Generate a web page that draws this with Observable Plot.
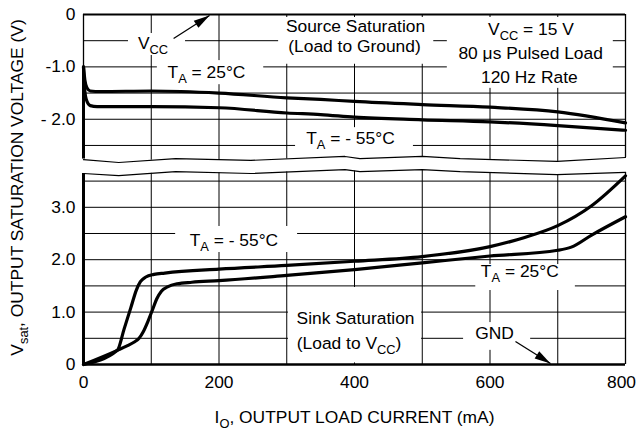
<!DOCTYPE html>
<html><head><meta charset="utf-8">
<script src="https://cdn.jsdelivr.net/npm/d3@7"></script>
<script src="https://cdn.jsdelivr.net/npm/@observablehq/plot@0.6"></script>
<style>
html,body{margin:0;padding:0;background:#fff;}
#chart{position:relative;width:637px;height:434px;}
#chart svg{position:absolute;left:0;top:0;}
</style></head><body><div id="chart"></div>
<script>
// ---------- data ----------
// Source saturation (load to ground), upper panel
const srcWarmX = [0, 2, 5, 10, 25, 100, 200, 300, 350, 400, 500, 600, 700, 800];
const srcWarmY = [-1.0, -1.25, -1.4, -1.46, -1.47, -1.46, -1.50, -1.59, -1.62, -1.66, -1.72, -1.77, -1.86, -2.07];
const srcColdX = [0, 1, 4, 10, 20, 100, 200, 300, 350, 400, 500, 600, 700, 800];
const srcColdY = [-1.0, -1.3, -1.62, -1.74, -1.76, -1.76, -1.78, -1.88, -1.91, -1.96, -2.01, -2.05, -2.12, -2.21];
// Sink saturation (load to Vcc), lower panel
const sinkColdX = [0, 50, 60, 70, 78, 84, 92, 104, 120, 200, 300, 400, 500, 600, 650, 700, 750, 800];
const sinkColdY = [0, 0.27, 0.68, 1.09, 1.42, 1.58, 1.67, 1.72, 1.745, 1.82, 1.89, 1.97, 2.06, 2.25, 2.42, 2.65, 3.03, 3.6];
const sinkWarmX = [0, 50, 65, 75, 82, 88, 95, 102, 108, 115, 124, 138, 160, 200, 300, 400, 500, 600, 700, 720, 750, 800];
const sinkWarmY = [0, 0.27, 0.36, 0.43, 0.5, 0.62, 0.82, 1.05, 1.25, 1.4, 1.48, 1.54, 1.57, 1.6, 1.70, 1.81, 1.94, 2.07, 2.18, 2.24, 2.47, 2.82];
// axis break (wavy lines), in lower-panel units
const waveX = [0, 52, 136, 247, 386, 408, 500, 556, 699, 800];
const waveTop = [3.91, 3.855, 3.93, 3.895, 3.97, 3.93, 3.97, 3.93, 3.875, 3.95];
const waveBottom = [3.645, 3.605, 3.68, 3.645, 3.72, 3.68, 3.72, 3.68, 3.625, 3.665];
// ticks and grid
const gridX = [100, 200, 300, 400, 500, 600, 700];
const topGridY = [-0.5, -1, -1.5, -2, -2.5];
const botGridY = [0.5, 1, 1.5, 2, 2.5, 3, 3.5];
const xTicks = [0, 200, 400, 600, 800];
const xTickLabels = ["0", "200", "400", "600", "800"];
const topTicks = [0, -1, -2];
const topTickLabels = ["0", "-1.0", "- 2.0"];
const botTicks = [0, 1, 2, 3];
const botTickLabels = ["0", "1.0", "2.0", "3.0"];

// ---------- annotations ----------
const topLabels = [
  {x: 102.6, y: -0.544, t: "V_{CC}"},
  {x: 181.5, y: -1.10, t: "T_{A} = 25°C"},
  {x: 401.5, y: -0.219, t: "Source Saturation"},
  {x: 400, y: -0.611, t: "(Load to Ground)"},
  {x: 660.5, y: -0.283, t: "V_{CC} = 15 V"},
  {x: 660, y: -0.735, t: "80 μs Pulsed Load"},
  {x: 658, y: -1.202, t: "120 Hz Rate"},
  {x: 394, y: -2.357, t: "T_{A} = - 55°C"}
];
const topBoxes = [
  {x1: 66.4, x2: 150.6, y1: -0.363, y2: -0.782},
  {x1: 109, x2: 266, y1: -0.88, y2: -1.34},
  {x1: 288, x2: 517, y1: -0.057, y2: -0.95},
  {x1: 537, x2: 782, y1: -0.057, y2: -1.41},
  {x1: 313, x2: 487, y1: -2.16, y2: -2.75}
];
const botLabels = [
  {x: 222, y: 2.366, t: "T_{A} = - 55°C"},
  {x: 401.5, y: 0.887, t: "Sink Saturation"},
  {x: 392, y: 0.41, t: "(Load to V_{CC})"},
  {x: 644, y: 1.784, t: "T_{A} = 25°C"},
  {x: 606.6, y: 0.59, t: "GND"}
];
const botBoxes = [
  {x1: 136, x2: 316, y1: 2.634, y2: 2.137},
  {x1: 302.5, x2: 499, y1: 1.47, y2: 0.03},
  {x1: 579, x2: 726, y1: 1.908, y2: 1.412},
  {x1: 561, x2: 660, y1: 0.80, y2: 0.27}
];
const vccArrow = [{x1: 133, y1: -0.458, x2: 186, y2: -0.02, rot: 57}];
const gndArrow = [{x1: 637.6, y1: 0.44, x2: 689.3, y2: 0.02, rot: 122}];

// ---------- helpers ----------
const W = 637, H = 434;
const style = {fontFamily: '"Liberation Sans", Arial, Helvetica, sans-serif', fontSize: "17.4px", background: "transparent", overflow: "visible", color: "#000"};
const zip = (xs, ys) => xs.map((x, i) => ({x, y: ys[i]}));
const head = {draw(ctx) { ctx.moveTo(0, 0); ctx.lineTo(4.3, 16); ctx.lineTo(-4.3, 16); ctx.closePath(); }};
const curve = (xs, ys) => Plot.line(zip(xs, ys), {x: "x", y: "y", curve: "monotone-x", stroke: "#000", strokeWidth: 3.2, strokeLinejoin: "round"});
const arrow = (a) => [
  Plot.link(a, {x1: "x1", y1: "y1", x2: "x2", y2: "y2", stroke: "#000", strokeWidth: 1.3}),
  Plot.dot(a, {x: "x2", y: "y2", symbol: head, rotate: a[0].rot, fill: "#000", stroke: "none"})
];
const waves = waveX.map((x, i) => ({x, hi: waveTop[i], lo: waveBottom[i]}));
const xFmt = d => xTickLabels[xTicks.indexOf(d)];

// ---------- upper panel ----------
const topPlot = Plot.plot({
  width: W, height: H, marginTop: 14, marginBottom: H - 157, marginLeft: 83, marginRight: 12,
  x: {domain: [0, 800], axis: null},
  y: {domain: [-2.73, 0]},
  style,
  marks: [
    Plot.ruleX(gridX, {y1: 0, y2: -2.85, stroke: "#000", strokeWidth: 1}),
    Plot.ruleY(topGridY, {x1: 0, x2: 800, stroke: "#000", strokeWidth: 1}),
    Plot.rect(topBoxes, {x1: "x1", x2: "x2", y1: "y1", y2: "y2", fill: "white"}),
    Plot.ruleY([0], {x1: 0, x2: 800, stroke: "#000", strokeWidth: 1.8}),
    Plot.ruleX([800], {y1: 0, y2: -2.73, stroke: "#000", strokeWidth: 1.3}),
    Plot.ruleX([0], {y1: 0, y2: -1.0, stroke: "#000", strokeWidth: 1.3}),
    Plot.ruleX([0], {y1: -1.0, y2: -2.76, stroke: "#000", strokeWidth: 3}),
    curve(srcWarmX, srcWarmY),
    curve(srcColdX, srcColdY),
    Plot.text(topLabels, {x: "x", y: "y", text: "t", fill: "#000"}),
    ...arrow(vccArrow),
    Plot.axisY({ticks: topTicks, tickSize: 0, tickPadding: 8, label: null,
      tickFormat: d => topTickLabels[topTicks.indexOf(d)]})
  ]
});

// ---------- lower panel ----------
const botPlot = Plot.plot({
  width: W, height: H, marginTop: 173, marginBottom: 70, marginLeft: 83, marginRight: 12,
  x: {domain: [0, 800]},
  y: {domain: [0, 3.645]},
  style,
  marks: [
    Plot.ruleX(gridX, {y1: 0, y2: 3.8, stroke: "#000", strokeWidth: 1}),
    Plot.ruleY(botGridY, {x1: 0, x2: 800, stroke: "#000", strokeWidth: 1}),
    Plot.rect(botBoxes, {x1: "x1", x2: "x2", y1: "y1", y2: "y2", fill: "white"}),
    Plot.areaY(waves, {x: "x", y1: "lo", y2: "hi", fill: "white"}),
    Plot.line(waves, {x: "x", y: "hi", stroke: "#000", strokeWidth: 1.2}),
    Plot.line(waves, {x: "x", y: "lo", stroke: "#000", strokeWidth: 1.2}),
    Plot.ruleX([800], {y1: 0, y2: 3.665, stroke: "#000", strokeWidth: 1.3}),
    Plot.ruleX([0], {y1: 0, y2: 3.645, stroke: "#000", strokeWidth: 3}),
    Plot.ruleY([0], {x1: 0, x2: 800, stroke: "#000", strokeWidth: 2.6}),
    curve(sinkColdX, sinkColdY),
    curve(sinkWarmX, sinkWarmY),
    Plot.text(botLabels, {x: "x", y: "y", text: "t", fill: "#000"}),
    ...arrow(gndArrow),
    Plot.axisY({ticks: botTicks, tickSize: 0, tickPadding: 8, label: null,
      tickFormat: d => botTickLabels[botTicks.indexOf(d)]}),
    Plot.axisX({ticks: xTicks.slice(0, -1), tickSize: 0, tickPadding: 11, label: null, tickFormat: xFmt}),
    Plot.axisX({ticks: xTicks.slice(-1), tickSize: 0, tickPadding: 11, label: null, tickFormat: xFmt, dx: -4}),
    Plot.text(["I_{O}, OUTPUT LOAD CURRENT (mA)"], {x: () => 400, y: () => -1.01, text: d => d, fill: "#000"}),
    Plot.text(["V_{sat}, OUTPUT SATURATION VOLTAGE (V)"], {x: () => 0, y: () => 3.378, dx: -66.5, rotate: -90, text: d => d, fill: "#000"})
  ]
});

// ---------- subscripts ----------
function subs(svg) {
  const NS = "http://www.w3.org/2000/svg";
  svg.querySelectorAll("text").forEach(t => {
    const s = t.textContent;
    if (!s.includes("_{")) return;
    while (t.firstChild) t.removeChild(t.firstChild);
    let shifted = false;
    s.split(/(_\{[^}]*\})/).forEach(p => {
      if (!p) return;
      const ts = document.createElementNS(NS, "tspan");
      if (p.startsWith("_{")) {
        ts.textContent = p.slice(2, -1);
        ts.setAttribute("font-size", "74%");
        ts.setAttribute("dy", "5");
        shifted = true;
      } else {
        if (shifted) { ts.setAttribute("dy", "-5"); shifted = false; }
        ts.textContent = p;
      }
      t.appendChild(ts);
    });
  });
}
subs(topPlot); subs(botPlot);
const chart = document.getElementById("chart");
chart.appendChild(topPlot);
chart.appendChild(botPlot);
</script></body></html>
